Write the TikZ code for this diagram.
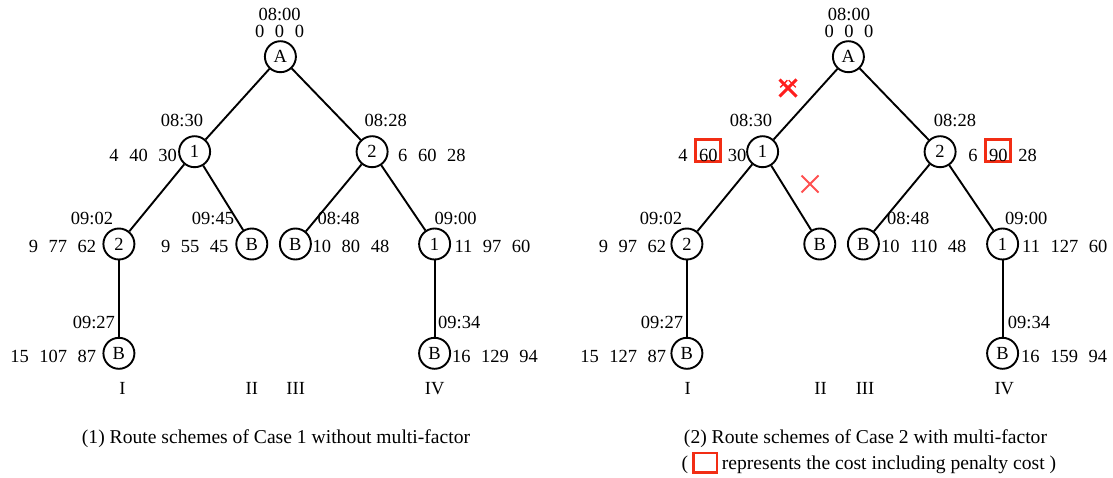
\documentclass[tikz,border=0pt]{standalone}
\usepackage{fontspec}
\setmainfont{Liberation Serif}
\newcommand{\numgap}{\hspace{0.57em}}
\definecolor{penred}{RGB}{242,45,20}
\definecolor{xred}{RGB}{255,30,30}
\definecolor{xlight}{RGB}{255,80,80}
\begin{document}
\begin{tikzpicture}[x=1pt,y=-1pt,
  every node/.style={font=\fontsize{18.5}{20}\selectfont, inner sep=0pt},
  vert/.style={draw, circle, line width=1.9pt, minimum size=31pt, inner sep=0pt},
  edge/.style={line width=1.9pt},
  penbox/.style={draw=penred, line width=2.8pt},
  lab/.style={anchor=base},
  labe/.style={anchor=base east},
  labw/.style={anchor=base west},
  captxt/.style={font=\fontsize{19.6}{21}\selectfont}]
\useasboundingbox (0,0) rectangle (1113,477);
% ---------- left tree ----------
\node[vert] (LA) at (280.4,56.7) {A};
\node[vert] (L1) at (194.6,151.7) {1};
\node[vert] (L2) at (372.1,151.7) {2};
\node[vert] (L12) at (118.9,244) {2};
\node[vert] (L1B) at (251.8,244) {B};
\node[vert] (L2B) at (295.4,244) {B};
\node[vert] (L21) at (434.6,244) {1};
\node[vert] (L12B) at (118.9,353.3) {B};
\node[vert] (L21B) at (434.6,353.3) {B};
\draw[edge] (LA) -- (L1);
\draw[edge] (LA) -- (L2);
\draw[edge] (L1) -- (L12);
\draw[edge] (L1) -- (L1B);
\draw[edge] (L2) -- (L2B);
\draw[edge] (L2) -- (L21);
\draw[edge] (L12) -- (L12B);
\draw[edge] (L21) -- (L21B);
\node[lab] (lt0) at (279.6,20.5) {08:00};
\node[lab] (lc0) at (279.6,37) {0\numgap0\numgap0};
\node[lab] (lt1) at (182,126.7) {08:30};
\node[lab] (lt2) at (385.7,126.7) {08:28};
\node[labe] (lc1) at (177,161) {4\numgap40\numgap30};
\node[labw] (lc2) at (398,161) {6\numgap60\numgap28};
\node[lab] (lt3) at (92,224.3) {09:02};
\node[lab] (lt4) at (213,224.3) {09:45};
\node[lab] (lt5) at (338.6,224.3) {08:48};
\node[lab] (lt6) at (455.6,224.3) {09:00};
\node[labe] (lc3) at (96.4,252) {9\numgap77\numgap62};
\node[labe] (lc4) at (228.6,252) {9\numgap55\numgap45};
\node[labw] (lc5) at (312.5,252) {10\numgap80\numgap48};
\node[labw] (lc6) at (454.3,252) {11\numgap97\numgap60};
\node[lab] (lt7) at (93.9,328) {09:27};
\node[lab] (lt8) at (459.2,328) {09:34};
\node[labe] (lc7) at (96.4,362.5) {15\numgap107\numgap87};
\node[labw] (lc8) at (451.8,362.5) {16\numgap129\numgap94};
\node[lab] (lr1) at (122.5,394) {I};
\node[lab] (lr2) at (251.8,394) {II};
\node[lab] (lr3) at (295.7,394) {III};
\node[lab] (lr4) at (434.6,394) {IV};
\node[lab, captxt] (lcap) at (276,443) {(1) Route schemes of Case 1 without multi-factor};
% ---------- right tree ----------
\node[vert] (RA) at (848.4,56.7) {A};
\node[vert] (R1) at (762.6,151.7) {1};
\node[vert] (R2) at (940.1,151.7) {2};
\node[vert] (R12) at (686.9,244) {2};
\node[vert] (R1B) at (819.8,244) {B};
\node[vert] (R2B) at (863.4,244) {B};
\node[vert] (R21) at (1002.6,244) {1};
\node[vert] (R12B) at (686.9,353.3) {B};
\node[vert] (R21B) at (1002.6,353.3) {B};
\draw[edge] (RA) -- (R1);
\draw[edge] (RA) -- (R2);
\draw[edge] (R1) -- (R12);
\draw[edge] (R1) -- (R1B);
\draw[edge] (R2) -- (R2B);
\draw[edge] (R2) -- (R21);
\draw[edge] (R12) -- (R12B);
\draw[edge] (R21) -- (R21B);
\node[lab] (rt0) at (849,20.5) {08:00};
\node[lab] (rc0) at (849,37) {0\numgap0\numgap0};
\node[lab] (rt1) at (751,126.7) {08:30};
\node[lab] (rt2) at (955,126.7) {08:28};
\node[lab] (rc1a) at (683,161) {4};
\draw[penbox] (695.8,139.5) rectangle (720.8,161.5);
\node[lab] (rc1b) at (708.3,161) {60};
\node[labe] (rc1c) at (746.5,161) {30};
\node[lab] (rc2a) at (973,161) {6};
\draw[penbox] (985.8,139.5) rectangle (1010.8,161.5);
\node[lab] (rc2b) at (998.3,161) {90};
\node[lab] (rc2c) at (1027.5,161) {28};
% red crosses
\draw[xred, line width=3pt] (779.5,79.5) -- (796.5,96.5);
\draw[xred, line width=3pt] (796.5,79.5) -- (779.5,96.5);
\draw[xred, line width=1.4pt] (780.2,87.3) -- (787.3,80.2);
\draw[xred, line width=1.4pt] (788.7,80.2) -- (795.8,87.3);
\draw[xlight, line width=2pt] (801.5,175.5) -- (818.5,192.5);
\draw[xlight, line width=2pt] (818.5,175.5) -- (801.5,192.5);
\node[lab] (rt3) at (661,224.3) {09:02};
\node[lab] (rt5) at (908.3,224.3) {08:48};
\node[lab] (rt6) at (1026.3,224.3) {09:00};
\node[labe] (rc3) at (666.4,252) {9\numgap97\numgap62};
\node[labw] (rc5) at (881,252) {10\numgap110\numgap48};
\node[labw] (rc6) at (1022,252) {11\numgap127\numgap60};
\node[lab] (rt7) at (662,328) {09:27};
\node[lab] (rt8) at (1029,328) {09:34};
\node[labe] (rc7) at (666.4,362.5) {15\numgap127\numgap87};
\node[labw] (rc8) at (1021,362.5) {16\numgap159\numgap94};
\node[lab] (rr1) at (687.7,394) {I};
\node[lab] (rr2) at (820.6,394) {II};
\node[lab] (rr3) at (865,394) {III};
\node[lab] (rr4) at (1004.3,394) {IV};
\node[lab, captxt] (rcap) at (865.5,443) {(2) Route schemes of Case 2 with multi-factor};
\node[labw, captxt] (rcp1) at (681.5,469.5) {(};
\draw[penbox] (693.5,453) rectangle (717,472.5);
\node[labw, captxt] (rcp2) at (721.7,469.5) {represents the cost including penalty cost )};
\end{tikzpicture}
\end{document}
